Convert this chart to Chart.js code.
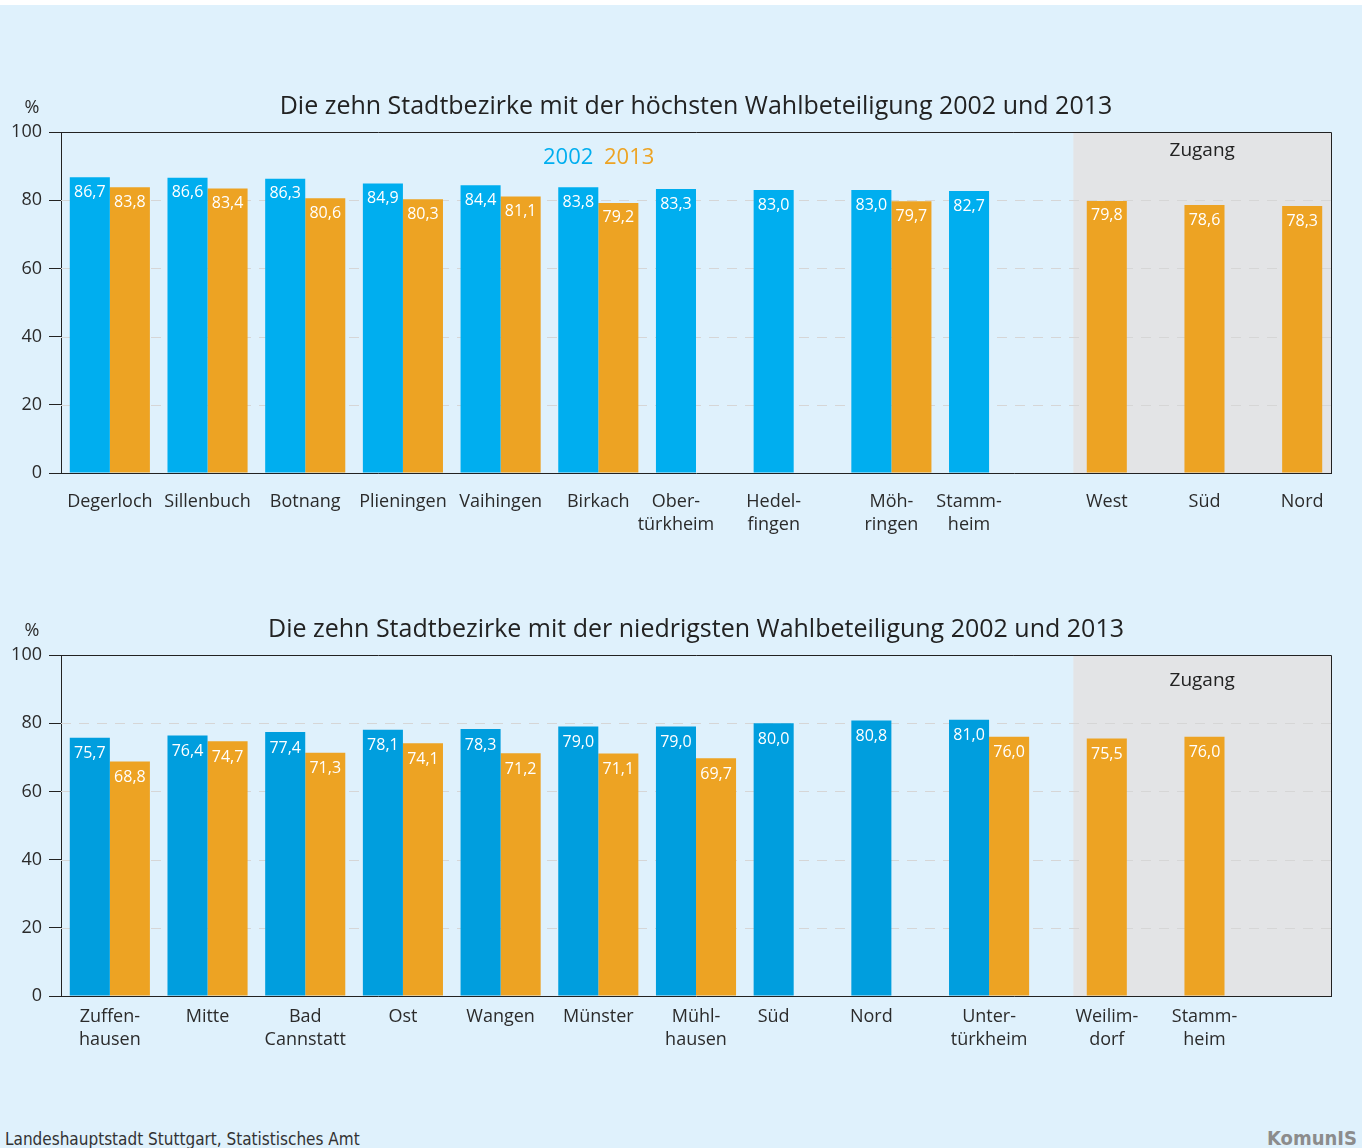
<!DOCTYPE html>
<html>
<head>
<meta charset="utf-8">
<title>Wahlbeteiligung Stadtbezirke</title>
<script src="https://cdn.jsdelivr.net/npm/chart.js@4/dist/chart.umd.min.js"></script>
<style>
html, body { margin: 0; padding: 0; }
body { width: 1362px; height: 1148px; background: #dff1fc; position: relative; overflow: hidden; font-family: 'Open Sans', sans-serif; }
#strip { position: absolute; left: 0; top: 0; width: 1362px; height: 5px; background: #fff; }
.box { position: absolute; left: 0; width: 1362px; }
#box1 { top: 0; height: 560px; }
#box2 { top: 560px; height: 540px; }
#src { position: absolute; left: 5px; top: 1130px; font-family: 'Liberation Sans Narrow', 'DejaVu Sans Condensed', sans-serif; font-size: 17px; line-height: 18px; color: #333; white-space: nowrap; }
#logo { position: absolute; right: 5px; top: 1127px; font-family: 'DejaVu Sans Condensed', sans-serif; font-weight: bold; font-size: 20px; line-height: 22px; color: #8c8c8c; white-space: nowrap; }
</style>
</head>
<body>
<div id="strip"></div>
<div class="box" id="box1"><canvas id="chartTop"></canvas></div>
<div class="box" id="box2"><canvas id="chartBottom"></canvas></div>
<div id="src">Landeshauptstadt Stuttgart, Statistisches Amt</div>
<div id="logo">KomunIS</div>
<script>
// Daten: die zehn Bezirke mit der hoechsten Wahlbeteiligung (+ Zugang)
const topLabels = [['Degerloch'], ['Sillenbuch'], ['Botnang'], ['Plieningen'], ['Vaihingen'], ['Birkach'],
    ['Ober-', 'türkheim'], ['Hedel-', 'fingen'], ['Möh-', 'ringen'], ['Stamm-', 'heim'], ['West'], ['Süd'], ['Nord']];
const top2002 = [86.7, 86.6, 86.3, 84.9, 84.4, 83.8, 83.3, 83.0, 83.0, 82.7, null, null, null];
const top2013 = [83.8, 83.4, 80.6, 80.3, 81.1, 79.2, null, null, 79.7, null, 79.8, 78.6, 78.3];

// Daten: die zehn Bezirke mit der niedrigsten Wahlbeteiligung (+ Zugang)
const bottomLabels = [['Zuffen-', 'hausen'], ['Mitte'], ['Bad', 'Cannstatt'], ['Ost'], ['Wangen'], ['Münster'],
    ['Mühl-', 'hausen'], ['Süd'], ['Nord'], ['Unter-', 'türkheim'], ['Weilim-', 'dorf'], ['Stamm-', 'heim'], []];
const bottom2002 = [75.7, 76.4, 77.4, 78.1, 78.3, 79.0, 79.0, 80.0, 80.8, 81.0, null, null, null];
const bottom2013 = [68.8, 74.7, 71.3, 74.1, 71.2, 71.1, 69.7, null, null, 76.0, 75.5, 76.0, null];

const yTicks = [0, 20, 40, 60, 80, 100];
const seriesNames = ['2002', '2013'];
const zugangFrom = 10;  // erste Kategorie im grauen Bereich

const ORANGE = '#eda323';
const TEXT = '#2b2b2b';
const FONT = "'Open Sans', sans-serif";

const fmt = v => v.toFixed(1).replace('.', ',');

// Zeichnet Hintergrund, Gitter, Werte und alle Beschriftungen
const decorPlugin = {
    id: 'decor',
    beforeDatasetsDraw(chart) {
        const ctx = chart.ctx, area = chart.chartArea;
        const x = chart.scales.x, y = chart.scales.y;
        const catW = x.width / x.ticks.length;
        ctx.save();
        // grauer Bereich "Zugang"
        const gx = x.getPixelForValue(zugangFrom) - 0.137 * catW;
        ctx.fillStyle = '#e3e4e6';
        ctx.fillRect(gx, area.top, area.right - gx, area.bottom - area.top);
        // gestrichelte Gitterlinien
        ctx.strokeStyle = '#d6d6d6';
        ctx.lineWidth = 1;
        ctx.setLineDash([10, 8]);
        yTicks.filter(t => t > 0 && t < 100).forEach(t => {
            const py = Math.round(y.getPixelForValue(t)) + 0.5;
            ctx.beginPath();
            ctx.moveTo(area.left, py);
            ctx.lineTo(area.right, py);
            ctx.stroke();
        });
        ctx.restore();
    },
    afterDatasetsDraw(chart) {
        const o = chart.options.plugins.decor;
        const ctx = chart.ctx, area = chart.chartArea;
        ctx.save();
        // Werte in den Balken
        ctx.fillStyle = '#fff';
        ctx.font = '16px ' + FONT;
        ctx.textAlign = 'center';
        ctx.textBaseline = 'middle';
        chart.data.datasets.forEach((ds, di) => {
            chart.getDatasetMeta(di).data.forEach((bar, i) => {
                const v = ds.data[i];
                if (v == null) return;
                ctx.fillText(fmt(v), bar.x, bar.y + o.valueOffset);
            });
        });
        // Rahmen oben und rechts
        ctx.strokeStyle = '#222';
        ctx.lineWidth = 1;
        ctx.beginPath();
        ctx.moveTo(Math.round(area.left), Math.round(area.top) + 0.5);
        ctx.lineTo(Math.round(area.right) + 0.5, Math.round(area.top) + 0.5);
        ctx.lineTo(Math.round(area.right) + 0.5, Math.round(area.bottom));
        ctx.stroke();
        // Kategorien unter den sichtbaren Balken
        ctx.fillStyle = TEXT;
        ctx.font = '18px ' + FONT;
        chart.data.labels.forEach((lab, i) => {
            const xs = [];
            chart.data.datasets.forEach((ds, di) => {
                if (ds.data[i] != null) xs.push(chart.getDatasetMeta(di).data[i].x);
            });
            if (!xs.length) return;
            const cx = xs.reduce((a, b) => a + b, 0) / xs.length;
            lab.forEach((line, li) => ctx.fillText(line, cx, area.bottom + o.labelOffset + li * 23));
        });
        // Titel
        const mid = (area.left + area.right) / 2;
        ctx.font = '25px ' + FONT;
        ctx.fillStyle = '#222';
        ctx.fillText(o.title, mid, area.top - 25);
        // Einheit
        ctx.font = '18px ' + FONT;
        ctx.fillStyle = TEXT;
        ctx.fillText('%', 32, area.top - 24);
        // Zugang
        const x = chart.scales.x;
        const zx = (x.getPixelForValue(zugangFrom) - 0.137 * x.width / x.ticks.length + area.right) / 2;
        ctx.font = '19px ' + FONT;
        ctx.fillStyle = '#222';
        ctx.fillText('Zugang', zx, area.top + o.zugangOffset);
        // Legende
        if (o.legend) {
            ctx.font = '22px ' + FONT;
            ctx.textAlign = 'left';
            ctx.fillStyle = chart.data.datasets[0].backgroundColor;
            ctx.fillText(seriesNames[0], 543, area.top + 26);
            ctx.fillStyle = chart.data.datasets[1].backgroundColor;
            ctx.fillText(seriesNames[1], 604, area.top + 26);
        }
        ctx.restore();
    }
};

function makeChart(id, labels, d2002, d2013, blue, o) {
    return new Chart(document.getElementById(id), {
        type: 'bar',
        data: {
            labels: labels,
            datasets: [
                { label: seriesNames[0], data: d2002, backgroundColor: blue, categoryPercentage: 0.82, barPercentage: 1.0 },
                { label: seriesNames[1], data: d2013, backgroundColor: ORANGE, categoryPercentage: 0.82, barPercentage: 1.0 }
            ]
        },
        options: {
            responsive: true,
            maintainAspectRatio: false,
            animation: false,
            layout: { padding: { left: 0, right: 31, top: o.padTop, bottom: o.padBottom } },
            plugins: {
                legend: { display: false },
                tooltip: { enabled: false },
                decor: o
            },
            scales: {
                x: {
                    ticks: { display: false },
                    grid: { display: false },
                    border: { display: true, color: '#222', width: 1 },
                    afterFit: s => { s.height = 0; }
                },
                y: {
                    min: 0,
                    max: 100,
                    afterBuildTicks: s => { s.ticks = yTicks.map(v => ({ value: v })); },
                    ticks: { color: TEXT, font: { family: FONT, size: 18 }, padding: 7 },
                    grid: { drawOnChartArea: false, drawTicks: true, tickLength: 12, color: '#222' },
                    border: { display: true, color: '#222', width: 1 },
                    afterFit: s => { s.width = 61; }
                }
            }
        },
        plugins: [decorPlugin]
    });
}

makeChart('chartTop', topLabels, top2002, top2013, '#00aeef', {
    title: 'Die zehn Stadtbezirke mit der höchsten Wahlbeteiligung 2002 und 2013',
    padTop: 132, padBottom: 87, labelOffset: 29, zugangOffset: 19, valueOffset: 15, legend: true
});

makeChart('chartBottom', bottomLabels, bottom2002, bottom2013, '#009ede', {
    title: 'Die zehn Stadtbezirke mit der niedrigsten Wahlbeteiligung 2002 und 2013',
    padTop: 95, padBottom: 104, labelOffset: 21, zugangOffset: 26, valueOffset: 16, legend: false
});
</script>
</body>
</html>
